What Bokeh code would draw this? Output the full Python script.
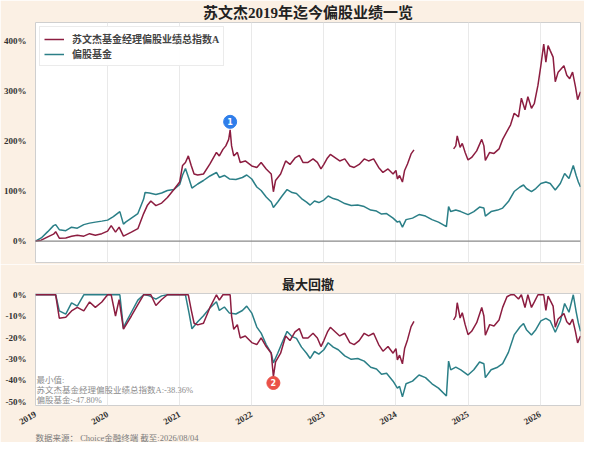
import math

import pandas as pd

from bokeh.core.properties import value
from bokeh.embed import file_html
from bokeh.layouts import column
from bokeh.models import FixedTicker, Label, PrintfTickFormatter, Range1d, Span, Title
from bokeh.plotting import figure
from bokeh.resources import INLINE

nan = float("nan")

# cumulative return (%), x as decimal year
red_years = [
    2019.00, 2019.04, 2019.08, 2019.17, 2019.25, 2019.28, 2019.33, 2019.42, 2019.50, 2019.58, 2019.67, 2019.75, 2019.83, 2019.92,
    2020.00, 2020.05, 2020.11, 2020.16, 2020.22, 2020.33, 2020.42, 2020.50, 2020.55, 2020.60, 2020.67, 2020.75, 2020.83, 2020.92,
    2021.00, 2021.04, 2021.08, 2021.12, 2021.16, 2021.20, 2021.25, 2021.33, 2021.42, 2021.51, 2021.55, 2021.60, 2021.64, 2021.68,
    2021.70, 2021.72, 2021.75, 2021.80, 2021.84, 2021.91,
    2022.00, 2022.07, 2022.13, 2022.20, 2022.27, 2022.30, 2022.33, 2022.40, 2022.47, 2022.53, 2022.60, 2022.66, 2022.71, 2022.78,
    2022.85, 2022.91, 2022.96,
    2023.00, 2023.05, 2023.09, 2023.16, 2023.22, 2023.29, 2023.36, 2023.42, 2023.49, 2023.56, 2023.62, 2023.69, 2023.76, 2023.82,
    2023.89, 2023.96,
    2024.00, 2024.02, 2024.05, 2024.09, 2024.12, 2024.16, 2024.21, 2024.25, 2024.52, 2024.80, 2024.83, 2024.85, 2024.89, 2024.92,
    2024.96,
    2025.00, 2025.05, 2025.12, 2025.19, 2025.22, 2025.24, 2025.30, 2025.36, 2025.43, 2025.48, 2025.54, 2025.59, 2025.64, 2025.70,
    2025.74, 2025.79, 2025.83, 2025.88, 2025.92, 2025.97,
    2026.01, 2026.05, 2026.08, 2026.11, 2026.14, 2026.18, 2026.21, 2026.25, 2026.33, 2026.37, 2026.41, 2026.45, 2026.49, 2026.52,
    2026.56,
]
red_values = [
    0, 1, 2, 8.5, 14, 19, 6, 6.5, 10, 12, 10, 15, 12, 15,
    20, 31, 18, 28, 10, 18, 25, 55, 71, 80, 71, 76, 87, 103,
    118, 151, 157, 170, 151, 134, 132, 134, 154, 177, 170, 183, 190, 203,
    222, 190, 170, 177, 157, 160,
    150, 147, 157, 144, 134, 98.5, 121, 134, 160, 153, 166, 171, 157, 157,
    164, 157, 144,
    153, 166, 173, 166, 160, 164, 150, 147, 153, 164, 160, 164, 147, 137,
    144, 134,
    141, 124, 131, 118, 141, 154, 174, 182, nan, 184, 190, 210, 187, 195,
    177,
    162, 167, 180, 203, 190, 161, 177, 175, 184, 203, 219, 232, 255, 248,
    285, 262, 288, 265, 275, 311,
    350, 393, 357, 390, 380, 367, 318, 337, 350, 331, 324, 337, 308, 282,
    298,
]

teal_years = [
    2019.00, 2019.08, 2019.17, 2019.25, 2019.28, 2019.33, 2019.42, 2019.50, 2019.58, 2019.67, 2019.75, 2019.83, 2019.92,
    2020.00, 2020.08, 2020.17, 2020.22, 2020.25, 2020.33, 2020.42, 2020.50, 2020.52, 2020.58, 2020.67, 2020.75, 2020.83, 2020.92,
    2021.00, 2021.04, 2021.08, 2021.13, 2021.17, 2021.25, 2021.33, 2021.42, 2021.51, 2021.55, 2021.62, 2021.69, 2021.78, 2021.87,
    2021.93,
    2022.00, 2022.07, 2022.13, 2022.20, 2022.27, 2022.30, 2022.36, 2022.42, 2022.49, 2022.56, 2022.62, 2022.69, 2022.76, 2022.81,
    2022.87, 2022.93,
    2023.00, 2023.06, 2023.13, 2023.20, 2023.29, 2023.38, 2023.47, 2023.56, 2023.65, 2023.73, 2023.80, 2023.87, 2023.96,
    2024.02, 2024.05, 2024.09, 2024.14, 2024.23, 2024.32, 2024.41, 2024.50, 2024.59, 2024.70, 2024.73, 2024.76, 2024.83, 2024.90,
    2025.00, 2025.08, 2025.16, 2025.22, 2025.24, 2025.32, 2025.41, 2025.48, 2025.56, 2025.64, 2025.72, 2025.77, 2025.81, 2025.88,
    2025.94,
    2026.01, 2026.08, 2026.14, 2026.21, 2026.28, 2026.34, 2026.40, 2026.46, 2026.50, 2026.53, 2026.56,
]
teal_values = [
    0, 6.5, 19, 31, 33, 23, 21, 28, 26, 33, 36, 38, 40,
    42, 49, 59, 34, 38, 46, 55, 84, 97, 96, 93, 96, 101, 103,
    113, 132, 145, 124, 106, 114, 121, 130, 137, 127, 131, 124, 123, 127,
    132,
    124, 108, 101, 88, 78, 67, 78, 90, 103, 97, 95, 85, 78, 72,
    80, 77,
    82, 90, 85, 82, 75, 71, 72, 69, 62, 60, 54, 55, 46,
    38, 40, 28, 43, 46, 53, 50, 43, 38, 29, 69, 59, 62, 59,
    53, 59, 68, 66, 50, 59, 62, 66, 79, 99, 108, 112, 105, 99,
    105,
    115, 118, 115, 102, 115, 135, 125, 151, 131, 118, 108,
]

year_ticks = [2019, 2020, 2021, 2022, 2023, 2024, 2025, 2026]
year_labels = ["2019", "2020", "2021", "2022", "2023", "2024", "2025", "2026"]
ret_ticks = [0, 100, 200, 300, 400]
dd_ticks = [-50, -40, -30, -20, -10, 0]

red_name = "苏文杰基金经理偏股业绩总指数A"
teal_name = "偏股基金"
min_lines = ["最小值:", "苏文杰基金经理偏股业绩总指数A:-38.36%", "偏股基金:-47.80%"]
main_title = "苏文杰2019年迄今偏股业绩一览"
dd_title = "最大回撤"
source_note = "数据来源： Choice金融终端 截至:2026/08/04"

RED = "#8c1d40"
TEAL = "#2b7f87"
BG = "#fbf0e4"
FONT = "Liberation Serif, Noto Sans CJK SC"


def drawdown(vals):
    s = 1 + pd.Series(vals, dtype=float) / 100
    return ((s / s.cummax() - 1) * 100).tolist()


red_dd = drawdown(red_values)
teal_dd = drawdown(teal_values)

# marker 2 = deepest drawdown of the index, marker 1 = the peak before it
trough_i = min(range(len(red_dd)), key=lambda i: red_dd[i] if red_dd[i] == red_dd[i] else 0)
peak_i = max(range(trough_i), key=lambda i: red_values[i])

x_range = Range1d(red_years[0], red_years[-1])


def style_common(p):
    p.border_fill_color = BG
    p.background_fill_color = "white"
    p.outline_line_color = "#cfcfcf"
    p.ygrid.visible = False
    p.xgrid.ticker = FixedTicker(ticks=year_ticks)
    p.xgrid.grid_line_color = "#e9e9e9"
    p.yaxis.axis_line_color = None
    p.yaxis.major_tick_line_color = None
    p.yaxis.minor_tick_line_color = None
    p.yaxis.formatter = PrintfTickFormatter(format="%d%%")
    p.yaxis.major_label_text_font = FONT
    p.yaxis.major_label_text_font_size = "9px"
    p.yaxis.major_label_text_font_style = "bold"
    p.yaxis.major_label_text_color = "#333333"
    p.yaxis.major_label_standoff = 3
    p.title.text_font = FONT
    p.title.text_font_style = "bold"
    p.title.align = "center"
    p.title.text_color = "#222222"


# ---- top: cumulative returns
top_yr = (-42.5, 436)
top = figure(width=584, height=264, x_range=x_range, y_range=Range1d(*top_yr),
             output_backend="svg", toolbar_location=None, tools="",
             min_border_left=28, min_border_right=4, min_border_top=22, min_border_bottom=2)
top.title.text = main_title
top.title.text_font_size = "15px"
top.title.standoff = 3
style_common(top)
top.xaxis.visible = False
top.yaxis.ticker = ret_ticks

top.add_layout(Span(location=0, dimension="width", line_color="#8a8a8a", line_width=1.3))

teal_r = top.line(teal_years, teal_values, color=TEAL, line_width=1.5, legend_label=teal_name)
red_r = top.line(red_years, red_values, color=RED, line_width=1.5, legend_label=red_name)
top.legend.items = [top.legend.items[1], top.legend.items[0]]
top.legend.location = "top_left"
top.legend.margin = 4
top.legend.padding = 4
top.legend.spacing = 0
top.legend.label_text_font = FONT
top.legend.label_text_font_size = "10px"
top.legend.label_text_font_style = "bold"
top.legend.label_height = 12
top.legend.glyph_height = 12
top.legend.glyph_width = 20
top.legend.label_standoff = 8
top.legend.border_line_color = "#d8d8d8"

# marker 1 sits ~8px above the peak
top_frame_h = 240
up = 8 * (top_yr[1] - top_yr[0]) / top_frame_h
top.scatter([red_years[peak_i]], [red_values[peak_i] + up], size=13, color="#2f7eea")
top.text([red_years[peak_i]], [red_values[peak_i] + up], text=["1"], text_color="white",
         text_font=value("DejaVu Sans"), text_font_size="8px", text_font_style="bold",
         text_align="center", text_baseline="middle")

# ---- bottom: drawdown
dd_yr = (-51.8, 0.6)
bot = figure(width=584, height=178, x_range=x_range, y_range=Range1d(*dd_yr),
             output_backend="svg", toolbar_location=None, tools="",
             min_border_left=28, min_border_right=4, min_border_top=29, min_border_bottom=30)
bot.title.text = dd_title
bot.title.text_font_size = "13px"
bot.title.standoff = 4
style_common(bot)
bot.yaxis.ticker = dd_ticks
bot.xaxis.ticker = FixedTicker(ticks=year_ticks)
bot.xaxis.major_label_overrides = dict(zip(year_ticks, year_labels))
bot.xaxis.major_label_orientation = math.pi / 6
bot.xaxis.axis_line_color = None
bot.xaxis.major_tick_line_color = None
bot.xaxis.minor_tick_line_color = None
bot.xaxis.major_label_text_font = FONT
bot.xaxis.major_label_text_font_size = "9px"
bot.xaxis.major_label_text_font_style = "bold"
bot.xaxis.major_label_text_color = "#333333"
bot.xaxis.major_label_standoff = 2

bot.line(teal_years, teal_dd, color=TEAL, line_width=1.5)
bot.line(red_years, red_dd, color=RED, line_width=1.5)

bot_frame_h = 117
down = 6.5 * (dd_yr[1] - dd_yr[0]) / bot_frame_h
bot.scatter([red_years[trough_i]], [red_dd[trough_i] - down], size=13, color="#ea5148")
bot.text([red_years[trough_i]], [red_dd[trough_i] - down], text=["2"], text_color="white",
         text_font=value("DejaVu Sans"), text_font_size="8px", text_font_style="bold",
         text_align="center", text_baseline="middle")

for k, line in enumerate(reversed(min_lines)):
    bot.add_layout(Label(x=red_years[0], y=dd_yr[0], x_offset=1, y_offset=1 + 10 * k,
                         text=line, text_font=FONT, text_font_size="8.5px",
                         text_color="#8c8c8c", text_baseline="bottom"))

bot.add_layout(Title(text=source_note, align="left", text_font=FONT, text_font_size="8.5px",
                     text_font_style="normal", text_color="#7a7a7a", standoff=0), "below")

layout = column(top, bot)
open("out.html", "w").write(file_html(layout, INLINE))
